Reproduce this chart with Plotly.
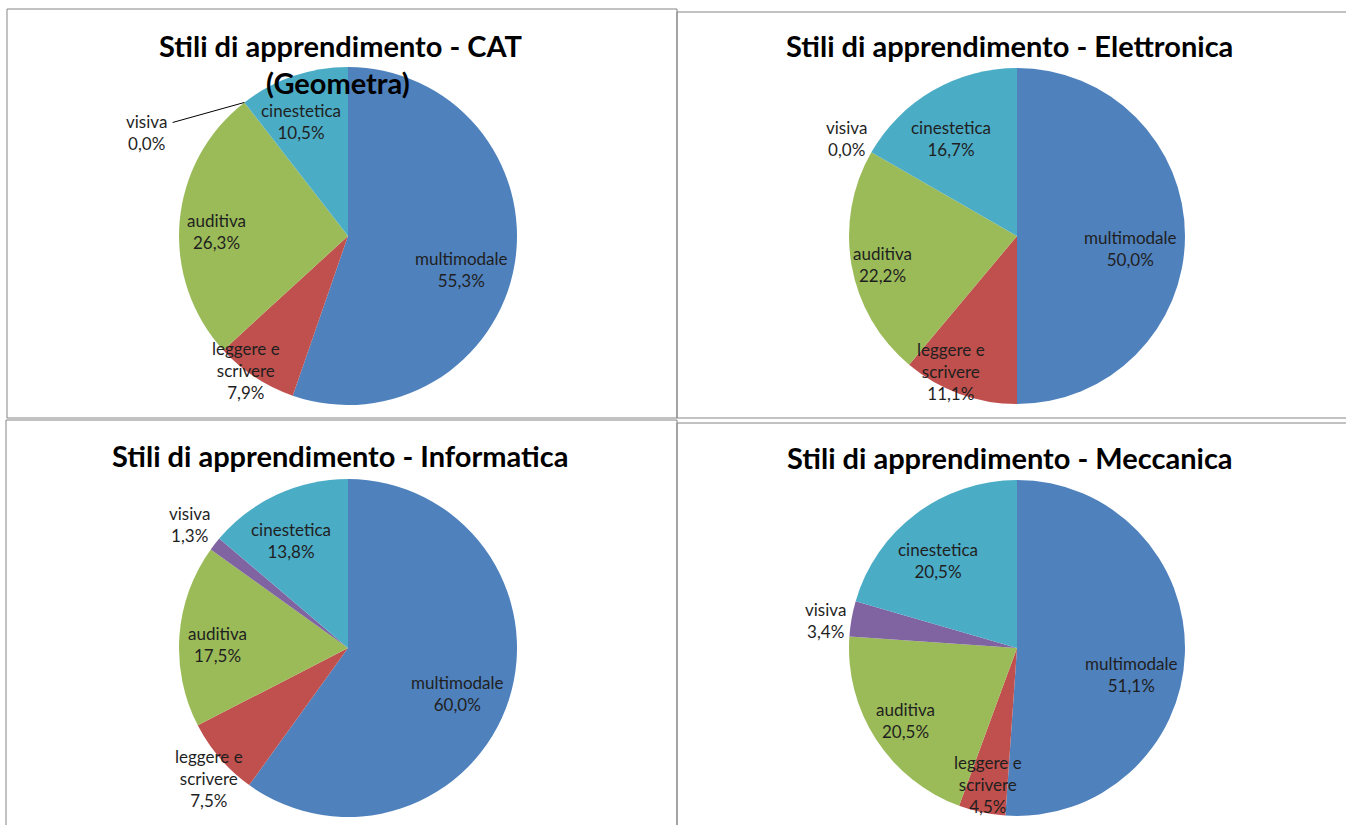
import math
import plotly.graph_objects as go

# ---------------- data ----------------
categories = ["multimodale", "leggere e scrivere", "auditiva", "visiva", "cinestetica"]
category_text = ["multimodale", "leggere e<br>scrivere", "auditiva", "visiva", "cinestetica"]

cat_values = [55.3, 7.9, 26.3, 0.0, 10.5]
elettronica_values = [50.0, 11.1, 22.2, 0.0, 16.7]
informatica_values = [60.0, 7.5, 17.5, 1.3, 13.8]
meccanica_values = [51.1, 4.5, 20.5, 3.4, 20.5]

titles_cat = ["Stili di apprendimento - CAT", "(Geometra)"]
titles_elettronica = ["Stili di apprendimento - Elettronica"]
titles_informatica = ["Stili di apprendimento - Informatica"]
titles_meccanica = ["Stili di apprendimento - Meccanica"]

# ---------------- style / layout ----------------
W, H = 1346, 825
colors = ["#4F81BD", "#C0504D", "#9BBB59", "#8064A2", "#4BACC6"]
FONT = "Lato"

panels = [
    dict(values=cat_values, titles=titles_cat, center=(348, 236), R=169,
         border=(7, 9, 677, 418), title_pos=[(340, 45), (338, 83)],
         lab=[(0.70, 7), (1.0, 4), (0.78, -3), (1.34, -25), (0.73, -3.5)],
         leader=[False, False, False, True, False]),
    dict(values=elettronica_values, titles=titles_elettronica, center=(1017, 236), R=168,
         border=(677, 12, 1348, 418), title_pos=[(1009, 45)],
         lab=[(0.68, 6.5), (0.90, 6), (0.82, -2), (1.17, 0), (0.70, -4)],
         leader=[False] * 5),
    dict(values=informatica_values, titles=titles_informatica, center=(348, 648), R=169,
         border=(6, 420, 677, 828), title_pos=[(340, 455)],
         lab=[(0.70, 4.5), (1.13, -2.5), (0.77, -2.5), (1.19, 0), (0.72, -3)],
         leader=[False] * 5),
    dict(values=meccanica_values, titles=titles_meccanica, center=(1017, 648), R=168,
         border=(677, 423, 1348, 828), title_pos=[(1010, 457)],
         lab=[(0.70, 11), (0.83, 0), (0.79, 0), (1.15, -2), (0.70, -5)],
         leader=[False] * 5),
]


def px_x(x):
    return x / W


def px_y(y):
    return 1 - y / H


def fmt(v):
    return f"{v:.1f}".replace(".", ",") + "%"


fig = go.Figure()
annotations = []
shapes = []

for p in panels:
    cx, cy = p["center"]
    R = p["R"]
    vals = p["values"]
    fig.add_trace(go.Pie(
        labels=categories, values=vals, sort=False, direction="clockwise",
        rotation=0, marker=dict(colors=colors, line=dict(width=0)),
        textinfo="none", hoverinfo="label+percent", showlegend=False,
        domain=dict(x=[px_x(cx - R), px_x(cx + R)], y=[px_y(cy + R), px_y(cy - R)]),
    ))

    total = sum(vals)
    cum = 0.0
    for i, v in enumerate(vals):
        mid = (cum + v / 2) / total * 360.0
        rf, dang = p["lab"][i]
        ang = math.radians(mid + dang)
        lx = cx + rf * R * math.sin(ang)
        ly = cy - rf * R * math.cos(ang)
        annotations.append(dict(
            x=px_x(lx), y=px_y(ly), xref="paper", yref="paper",
            text=f"{category_text[i]}<br>{fmt(v)}", showarrow=False,
            xanchor="center", yanchor="middle",
            font=dict(family=FONT, size=17, color="#1f1f1f"),
        ))
        if p["leader"][i]:
            ea = math.radians(mid)
            ex = cx + R * math.sin(ea)
            ey = cy - R * math.cos(ea)
            shapes.append(dict(type="line", xref="paper", yref="paper",
                               x0=px_x(lx + 26), y0=px_y(ly - 10),
                               x1=px_x(ex), y1=px_y(ey),
                               line=dict(color="#000000", width=1)))
        cum += v

    for t, (tx, ty) in zip(p["titles"], p["title_pos"]):
        annotations.append(dict(
            x=px_x(tx), y=px_y(ty), xref="paper", yref="paper",
            text=f"<b>{t}</b>", showarrow=False, xanchor="center", yanchor="middle",
            font=dict(family=FONT, size=29, color="#000000"),
        ))

    x0, y0, x1, y1 = p["border"]
    shapes.append(dict(type="rect", xref="paper", yref="paper",
                       x0=px_x(x0), y0=px_y(y1), x1=px_x(x1), y1=px_y(y0),
                       line=dict(color="#858585", width=1), layer="below"))

fig.update_layout(
    width=W, height=H,
    margin=dict(l=0, r=0, t=0, b=0),
    paper_bgcolor="white", plot_bgcolor="white",
    annotations=annotations, shapes=shapes,
    font=dict(family=FONT),
)

fig.write_html(
    "out.html",
    config={"displayModeBar": False},
    post_script="document.body.style.margin='0';document.body.style.overflow='hidden';",
)
